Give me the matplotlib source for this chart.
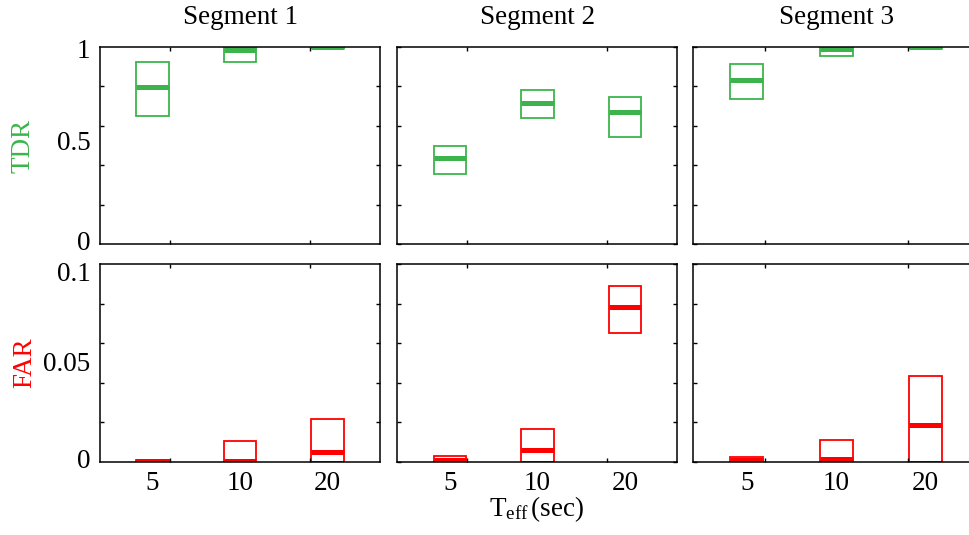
import matplotlib
matplotlib.use("Agg")
import matplotlib.pyplot as plt
from matplotlib.transforms import ScaledTranslation
import numpy as np

plt.rcParams["font.family"] = ["Liberation Serif", "DejaVu Serif"]
plt.rcParams["mathtext.fontset"] = "custom"
plt.rcParams["mathtext.rm"] = "Liberation Serif"
plt.rcParams["mathtext.it"] = "Liberation Serif:italic"

segments = ["Segment 1", "Segment 2", "Segment 3"]
t_eff_labels = ["5", "10", "20"]

# detection rate per segment: lower quartile, median, upper quartile
tdr_q1 = [[0.65, 0.925, 0.995], [0.356, 0.639, 0.545], [0.735, 0.955, 0.995]]
tdr_med = [[0.798, 0.985, 1.0], [0.435, 0.717, 0.670], [0.833, 0.99, 1.0]]
tdr_q3 = [[0.924, 1.0, 1.0], [0.499, 0.781, 0.744], [0.914, 1.0, 1.0]]

# false alarm rate per segment
far_q1 = [[0.0, 0.0, 0.0], [0.0, 0.0, 0.0654], [0.0, 0.0, 0.0]]
far_med = [[0.0005, 0.0005, 0.0049], [0.001, 0.0058, 0.0782], [0.0008, 0.0015, 0.0186]]
far_q3 = [[0.001, 0.0106, 0.0216], [0.0027, 0.0164, 0.0892], [0.0025, 0.0108, 0.0434]]

tdr_ticks = [0, 0.5, 1]
tdr_ticklabels = ["0", "0.5", "1"]
far_ticks = [0, 0.05, 0.1]
far_ticklabels = ["0", "0.05", "0.1"]

GREEN = "#3cb44b"
RED = "#ff0000"
BOX_W = 0.37
FS = 19.5

fig = plt.figure(figsize=(9.69, 5.35), dpi=100)

lefts = [0.1032, 0.410, 0.7155]
widths = [0.289, 0.289, 0.295]
rows = [(0.5434, 0.3693), (0.1370, 0.3690)]


def draw_boxes(ax, q1, med, q3, color):
    x = np.arange(1, len(q1) + 1)
    q1 = np.asarray(q1)
    q3 = np.asarray(q3)
    ax.bar(x, q3 - q1, bottom=q1, width=BOX_W, fill=False,
           edgecolor=color, linewidth=1.3)
    ax.hlines(med, x - BOX_W / 2, x + BOX_W / 2, colors=color, linewidth=3.6)


def style_axes(ax, ymax, ylabels, show_x, nudges=None):
    ax.set_xlim(0.4, 3.6)
    ax.set_ylim(0, ymax)
    for s in ax.spines.values():
        s.set_linewidth(1.1)
    # unlabelled inward ticks on all four sides
    ax.set_xticks([1.2, 2.0, 2.8], minor=True)
    ax.set_yticks(np.linspace(0, ymax, 6), minor=True)
    ax.tick_params(which="minor", direction="in", length=3, width=1.0,
                   top=True, right=True, bottom=True, left=True)
    ax.set_xticks([1, 2, 3])
    if show_x:
        ax.set_xticklabels(t_eff_labels)
    else:
        ax.set_xticklabels([])
    ax.tick_params(axis="x", which="major", length=0, pad=7, labelsize=FS)
    if ylabels is not None:
        ax.set_yticks(ylabels[0])
        ax.set_yticklabels(ylabels[1])
    else:
        ax.set_yticks([])
    ax.tick_params(axis="y", which="major", length=0, pad=7, labelsize=FS)
    if nudges is not None:
        # shift the end labels a little so they sit inside the axis span
        for lab, dy in zip(ax.get_yticklabels(), nudges):
            lab.set_transform(lab.get_transform()
                              + ScaledTranslation(0, dy / 100, fig.dpi_scale_trans))


for i, seg in enumerate(segments):
    ax_t = fig.add_axes([lefts[i], rows[0][0], widths[i], rows[0][1]])
    draw_boxes(ax_t, tdr_q1[i], tdr_med[i], tdr_q3[i], GREEN)
    if i == 0:
        style_axes(ax_t, 1.0, (tdr_ticks, tdr_ticklabels), False, nudges=[4, 5, -2])
    else:
        style_axes(ax_t, 1.0, None, False)
    ax_t.set_title(seg, fontsize=FS, pad=16)

    ax_f = fig.add_axes([lefts[i], rows[1][0], widths[i], rows[1][1]])
    draw_boxes(ax_f, far_q1[i], far_med[i], far_q3[i], RED)
    if i == 0:
        style_axes(ax_f, 0.1, (far_ticks, far_ticklabels), True, nudges=[3, 1, -7])
    else:
        style_axes(ax_f, 0.1, None, True)

fig.text(23 / 969, rows[0][0] + rows[0][1] / 2, "TDR", color=GREEN,
         rotation=90, ha="center", va="center", fontsize=FS)
fig.text(25 / 969, rows[1][0] + rows[1][1] / 2, "FAR", color=RED,
         rotation=90, ha="center", va="center", fontsize=FS)
fig.text(537 / 969, 1 - 516 / 535, r"T$_{\mathrm{eff}}$$\,$(sec)",
         ha="center", va="baseline", fontsize=FS)

fig.savefig("out.png", dpi=100)
